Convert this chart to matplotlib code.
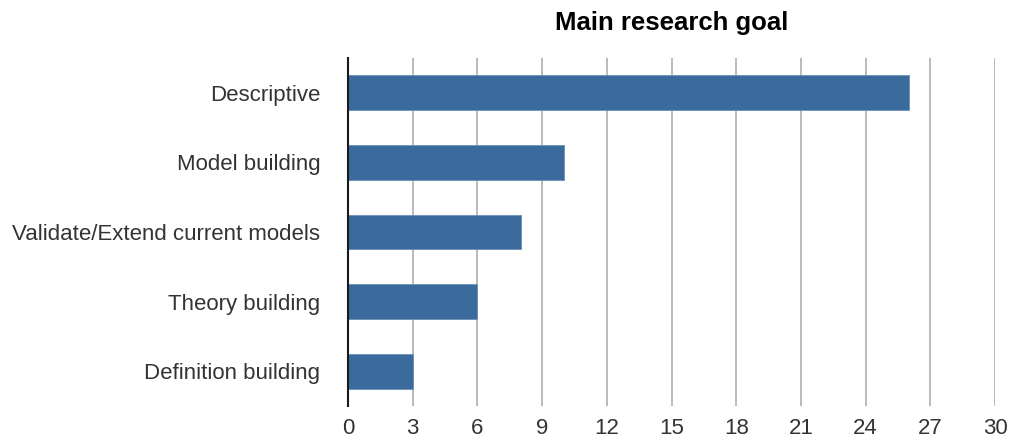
import numpy as np
import matplotlib.pyplot as plt

# research goal counts, bottom-to-top order for barh
goals = ['Definition building', 'Theory building', 'Validate/Extend current models',
         'Model building', 'Descriptive']
counts = [3, 6, 8, 10, 26]
xticks = list(range(0, 31, 3))

plt.rcParams['font.family'] = ['Liberation Sans', 'DejaVu Sans']

fig = plt.figure(figsize=(10.1, 4.41), dpi=100)
ax = fig.add_axes([0.3446, 0.0794, 0.6406, 0.7891])

ypos = np.arange(len(goals))
ax.barh(ypos, counts, height=0.5, color='#3b6b9c', edgecolor='#6a90b8', linewidth=0.6, zorder=3)

ax.set_xlim(0, 30)
ax.set_ylim(-0.5, len(goals) - 0.5)
ax.set_xticks(xticks)
ax.set_yticks(ypos)
ax.set_yticklabels(goals)
ax.grid(True, axis='x', color='#b4b4b4', linewidth=1.3, zorder=0)
ax.grid(False, axis='y')

for side in ['top', 'right', 'bottom']:
    ax.spines[side].set_visible(False)
ax.spines['left'].set_color('#1a1a1a')
ax.spines['left'].set_linewidth(1.5)
ax.spines['left'].set_zorder(4)

ax.tick_params(axis='both', length=0, labelsize=16, labelcolor='#333333')
ax.tick_params(axis='y', pad=20)
ax.tick_params(axis='x', pad=9)

ax.set_title('Main research goal', fontsize=18.5, fontweight='bold', pad=20)

fig.savefig('out.png', dpi=100)
